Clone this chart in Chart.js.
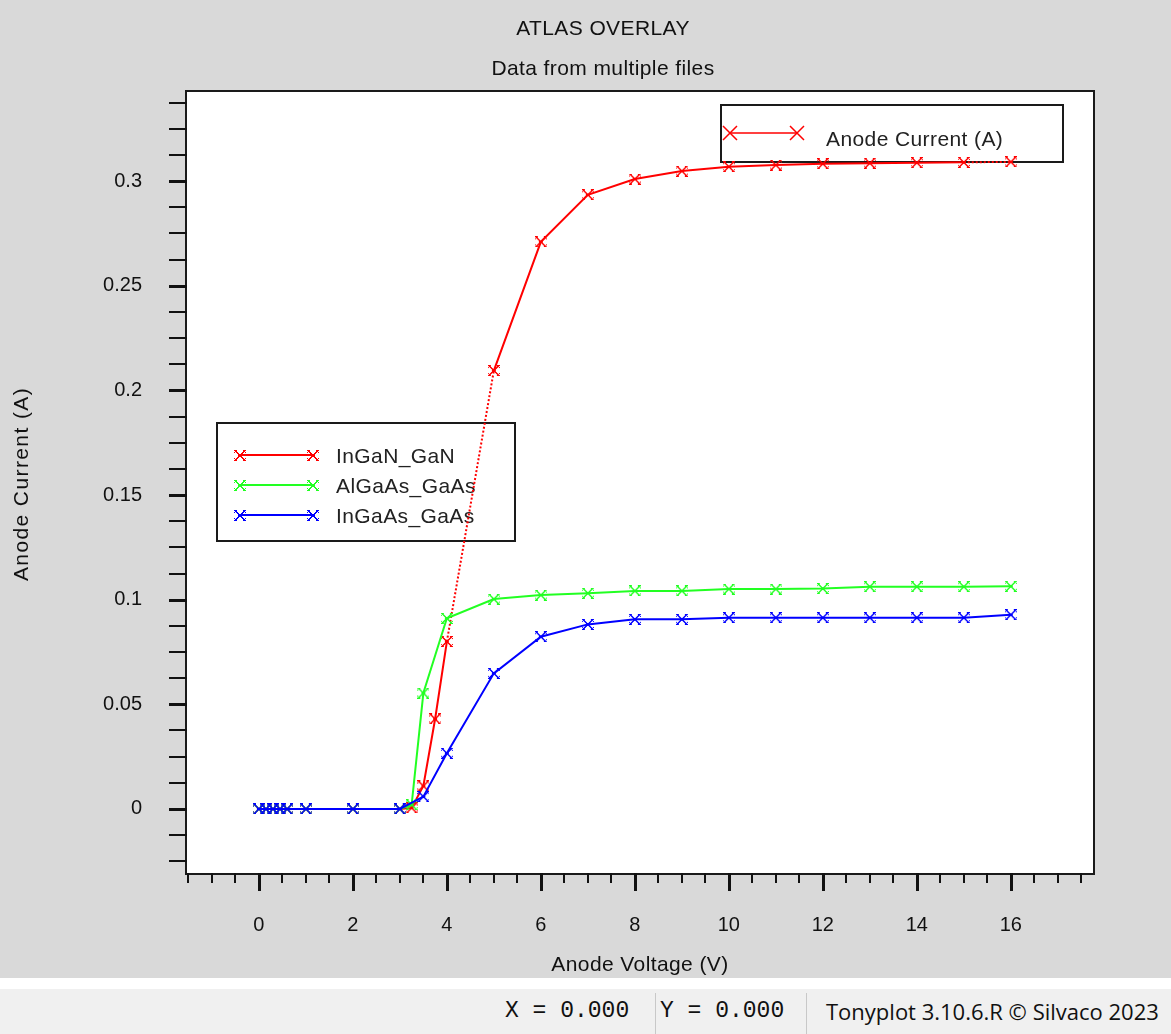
<!DOCTYPE html>
<html>
<head>
<meta charset="utf-8">
<title>ATLAS OVERLAY</title>
<script src="https://cdn.jsdelivr.net/npm/chart.js@4.4.1/dist/chart.umd.min.js"></script>
<style>
  html, body { margin: 0; padding: 0; background: #ffffff; }
  #wrap { position: relative; width: 1171px; height: 978px; }
  #statusbar { position: absolute; top: 989px; left: 0; width: 1171px; height: 45px; background: #f0f0f0; }
  #statusbar span { position: absolute; top: 0; line-height: 45px; color: #111; white-space: pre; }
  .mono { font-family: "Liberation Mono", "DejaVu Sans Mono", monospace; font-size: 23px; }
  .sep { position: absolute; top: 4px; width: 1px; height: 41px; background: #c8c8c8; }
  #credit { font-family: "Open Sans", "Noto Sans", sans-serif; font-size: 22px; }
</style>
</head>
<body>
<div id="wrap"><canvas id="ivChart" width="1171" height="978"></canvas></div>
<div id="statusbar">
  <span class="mono" style="left:505px">X = 0.000</span>
  <div class="sep" style="left:655px"></div>
  <span class="mono" style="left:660px">Y = 0.000</span>
  <div class="sep" style="left:806px"></div>
  <span id="credit" style="left:826px">Tonyplot 3.10.6.R © Silvaco 2023</span>
</div>
<script>
  // axis ticks
  const xTickValues = [0, 2, 4, 6, 8, 10, 12, 14, 16];
  const xTickLabels = ['0', '2', '4', '6', '8', '10', '12', '14', '16'];
  const yTickValues = [0, 0.05, 0.1, 0.15, 0.2, 0.25, 0.3];
  const yTickLabels = ['0', '0.05', '0.1', '0.15', '0.2', '0.25', '0.3'];

  const seriesNames = ['InGaN_GaN', 'AlGaAs_GaAs', 'InGaAs_GaAs'];
  const seriesColors = ['#ff0000', '#22ff22', '#0000ff'];

  // anode voltage (V) / anode current (A) per device
  const inganVolts = [0, 0.15, 0.3, 0.45, 0.6, 1, 2, 3, 3.25, 3.5, 3.75, 4, 5, 6, 7, 8, 9, 10, 11, 12, 13, 14, 15, 16];
  const inganCurrent = [0, 0, 0, 0, 0, 0, 0, 0, 0.0005, 0.0110, 0.0430, 0.0800, 0.2095, 0.2710, 0.2935, 0.3010, 0.3048, 0.3069, 0.3077, 0.3083, 0.3086, 0.3088, 0.3090, 0.3092];

  const algaasVolts = [0, 0.15, 0.3, 0.45, 0.6, 1, 2, 3, 3.25, 3.5, 4, 5, 6, 7, 8, 9, 10, 11, 12, 13, 14, 15, 16];
  const algaasCurrent = [0, 0, 0, 0, 0, 0, 0, 0, 0.0020, 0.0554, 0.0911, 0.1003, 0.1022, 0.1031, 0.1042, 0.1042, 0.1051, 0.1051, 0.1053, 0.1062, 0.1062, 0.1062, 0.1064];

  const ingaasVolts = [0, 0.15, 0.3, 0.45, 0.6, 1, 2, 3, 3.5, 4, 5, 6, 7, 8, 9, 10, 11, 12, 13, 14, 15, 16];
  const ingaasCurrent = [0, 0, 0, 0, 0, 0, 0, 0, 0.0059, 0.0266, 0.0648, 0.0823, 0.0882, 0.0906, 0.0906, 0.0914, 0.0914, 0.0914, 0.0914, 0.0914, 0.0914, 0.0928];

  const FONT = '"Liberation Sans", Arial, sans-serif';

  function toPoints(xs, ys) {
    return xs.map((x, i) => ({ x: x, y: ys[i] }));
  }

  // X marker (2px arms) with end caps and a solid centre
  function markerImage(color) {
    const c = document.createElement('canvas');
    c.width = 12; c.height = 11;
    const g = c.getContext('2d');
    g.fillStyle = color;
    for (let i = 0; i < 11; i++) {
      g.fillRect(i, i, 2, 1);
      g.fillRect(10 - i, i, 2, 1);
    }
    [[2, 0], [0, 2], [9, 0], [11, 2], [0, 8], [2, 10], [11, 8], [9, 10]].forEach(p => g.fillRect(p[0], p[1], 1, 1));
    g.fillRect(4, 4, 4, 3);
    return c;
  }

  const markers = seriesColors.map(markerImage);

  function drawCross(ctx, x, y, r, color) {
    ctx.strokeStyle = color;
    ctx.lineWidth = 1.5;
    ctx.beginPath();
    ctx.moveTo(x - r, y - r); ctx.lineTo(x + r, y + r);
    ctx.moveTo(x + r, y - r); ctx.lineTo(x - r, y + r);
    ctx.stroke();
  }

  const frame = {
    id: 'frame',
    beforeDraw(chart) {
      const { ctx, chartArea: a } = chart;
      ctx.save();
      ctx.fillStyle = '#d9d9d9';
      ctx.fillRect(0, 0, chart.width, chart.height);
      ctx.fillStyle = '#ffffff';
      ctx.fillRect(a.left, a.top, a.right - a.left, a.bottom - a.top);
      ctx.restore();
    },
    beforeDatasetsDraw(chart) {
      const ctx = chart.ctx;
      ctx.save();
      ctx.font = '21px ' + FONT;
      ctx.letterSpacing = '0.4px';
      ctx.textBaseline = 'middle';
      ctx.textAlign = 'left';

      // quantity legend, top right
      ctx.strokeStyle = '#1a1a1a';
      ctx.lineWidth = 2;
      ctx.strokeRect(721, 105, 342, 57);
      ctx.strokeStyle = seriesColors[0];
      ctx.lineWidth = 1.5;
      ctx.beginPath();
      ctx.moveTo(730, 133); ctx.lineTo(797, 133);
      ctx.stroke();
      drawCross(ctx, 730, 133, 7, seriesColors[0]);
      drawCross(ctx, 797, 133, 7, seriesColors[0]);
      ctx.fillStyle = '#222';
      ctx.fillText('Anode Current (A)', 826, 140);

      // file legend
      ctx.strokeStyle = '#1a1a1a';
      ctx.lineWidth = 2;
      ctx.strokeRect(217, 423, 298, 118);
      chart.data.datasets.forEach((ds, i) => {
        const y = 455 + i * 30;
        ctx.strokeStyle = ds.borderColor;
        ctx.lineWidth = 2;
        ctx.beginPath();
        ctx.moveTo(240, y); ctx.lineTo(313, y);
        ctx.stroke();
        ctx.drawImage(markers[i], 240 - 6, y - 5);
        ctx.drawImage(markers[i], 313 - 6, y - 5);
        ctx.fillStyle = '#222';
        ctx.fillText(ds.label, 336, y + 2);
      });
      ctx.restore();
    },
    afterDraw(chart) {
      const { ctx, chartArea: a, scales } = chart;
      const xs = scales.x, ys = scales.y;
      ctx.save();

      // plot frame
      ctx.strokeStyle = '#1a1a1a';
      ctx.lineWidth = 2;
      ctx.strokeRect(a.left - 1, a.top - 1, a.right - a.left + 2, a.bottom - a.top + 2);

      // x ticks: minor every 0.5 V, major every 2 V
      ctx.fillStyle = '#111';
      for (let k = -3; k <= 35; k++) {
        const v = k / 2;
        const px = Math.round(xs.getPixelForValue(v));
        if (px < a.left || px > a.right) continue;
        if (k % 4 === 0) ctx.fillRect(px - 1, a.bottom, 3, 18);
        else ctx.fillRect(px - 1, a.bottom, 2, 10);
      }
      // y ticks: minor every 0.0125 A, major every 0.05 A
      for (let k = -2; k <= 27; k++) {
        const v = k * 0.0125;
        const py = Math.round(ys.getPixelForValue(v));
        if (py < a.top || py > a.bottom) continue;
        if (k % 4 === 0) ctx.fillRect(169, py - 1, a.left - 169, 3);
        else ctx.fillRect(169, py - 1, a.left - 169, 2);
      }

      ctx.font = '20px ' + FONT;
      ctx.fillStyle = '#111';
      ctx.textBaseline = 'middle';
      ctx.textAlign = 'center';
      xTickValues.forEach((v, i) => {
        ctx.fillText(xTickLabels[i], xs.getPixelForValue(v), 925);
      });
      ctx.textAlign = 'right';
      yTickValues.forEach((v, i) => {
        ctx.fillText(yTickLabels[i], 142, ys.getPixelForValue(v));
      });

      // titles
      ctx.textAlign = 'center';
      ctx.letterSpacing = '0.4px';
      ctx.font = '21px ' + FONT;
      ctx.fillText('ATLAS OVERLAY', 603, 29);
      ctx.fillText('Data from multiple files', 603, 69);

      ctx.fillText('Anode Voltage (V)', 640, 965);
      ctx.letterSpacing = '1.4px';
      ctx.translate(22, 484);
      ctx.rotate(-Math.PI / 2);
      ctx.fillText('Anode Current (A)', 0, 0);
      ctx.restore();
    }
  };

  const seriesData = [
    toPoints(inganVolts, inganCurrent),
    toPoints(algaasVolts, algaasCurrent),
    toPoints(ingaasVolts, ingaasCurrent)
  ];

  // the steep 4-5 V and last 15-16 V red segments show up as a dotted trace
  const inganDotted = ctx => {
    const x0 = ctx.p0.parsed.x;
    return (x0 === 4 || x0 === 15) ? [2, 2] : undefined;
  };

  new Chart(document.getElementById('ivChart').getContext('2d'), {
    type: 'line',
    data: {
      datasets: seriesData.map((pts, i) => ({
        label: seriesNames[i],
        data: pts,
        order: 2 - i,
        borderColor: seriesColors[i],
        backgroundColor: seriesColors[i],
        borderWidth: 2,
        pointStyle: markers[i],
        pointRadius: 5,
        tension: 0,
        fill: false,
        segment: i === 0 ? { borderDash: inganDotted } : undefined
      }))
    },
    options: {
      responsive: false,
      animation: false,
      layout: { autoPadding: false, padding: { left: 187, top: 92, right: 78, bottom: 105 } },
      plugins: { legend: { display: false }, title: { display: false }, tooltip: { enabled: false } },
      scales: {
        x: { type: 'linear', min: -1.53, max: 17.75, display: false },
        y: { type: 'linear', min: -0.0306, max: 0.3426, display: false }
      }
    },
    plugins: [frame]
  });
</script>
</body>
</html>
